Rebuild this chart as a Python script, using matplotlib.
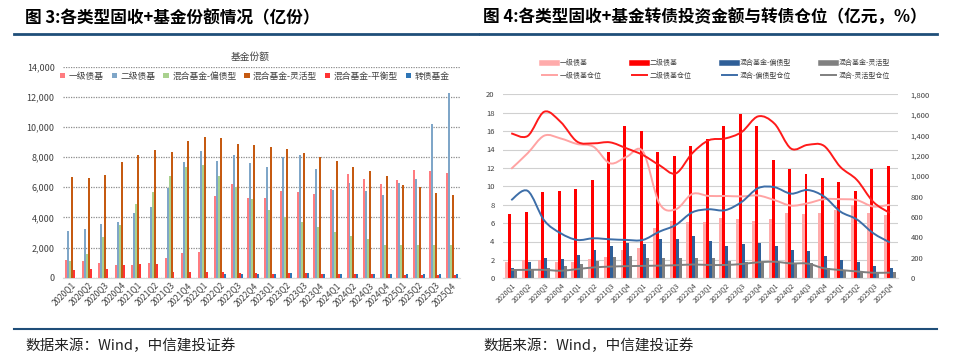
import numpy as np
import matplotlib
matplotlib.use("Agg")
import matplotlib.pyplot as plt
from matplotlib.path import Path
from matplotlib.patches import PathPatch
from matplotlib.lines import Line2D
from matplotlib.ticker import FuncFormatter, MultipleLocator

plt.rcParams['font.family'] = ['Noto Sans CJK SC', 'DejaVu Sans']
plt.rcParams['axes.unicode_minus'] = False

quarters = ['2020Q1', '2020Q2', '2020Q3', '2020Q4', '2021Q1', '2021Q2', '2021Q3', '2021Q4',
            '2022Q1', '2022Q2', '2022Q3', '2022Q4', '2023Q1', '2023Q2', '2023Q3', '2023Q4',
            '2024Q1', '2024Q2', '2024Q3', '2024Q4', '2025Q1', '2025Q2', '2025Q3', '2025Q4']

# 图3 基金份额 (亿份)
share_yiji = [1150, 1100, 950, 850, 850, 1000, 1300, 1620, 1680, 5400, 6250, 5270,
              5300, 5750, 5660, 5550, 5880, 6860, 6550, 6220, 6480, 7150, 7100, 6950]
share_erji = [3100, 3250, 3580, 3700, 4320, 4720, 5950, 7650, 8400, 7750, 8120, 7590,
              7320, 8030, 8120, 7190, 5800, 6260, 5770, 5500, 6260, 6530, 10200, 12280]
share_piandai = [1100, 1550, 2680, 3500, 4900, 5680, 6750, 7350, 7450, 6750, 6000, 5250,
                 4490, 4050, 3720, 3380, 3050, 2770, 2540, 2200, 2150, 2150, 2150, 2150]
share_linghuo = [6650, 6600, 6800, 7650, 8150, 8450, 8350, 9050, 9350, 9250, 8900, 8780,
                 8690, 8560, 8270, 8030, 7740, 7370, 7100, 6730, 6170, 6000, 5640, 5460]
share_pingheng = [500, 550, 550, 850, 900, 900, 350, 350, 350, 350, 300, 300,
                  250, 300, 300, 250, 250, 250, 250, 250, 200, 150, 150, 150]
share_zhuanzhai = [0, 0, 0, 0, 0, 0, 0, 0, 0, 250, 250, 250,
                   250, 300, 300, 250, 250, 250, 250, 250, 250, 250, 250, 250]

# 图4 转债投资金额 (亿元)
amt_yiji = [162, 180, 180, 162, 162, 189, 212, 279, 297, 495, 558, 549,
            549, 587, 580, 564, 577, 636, 629, 636, 668, 717, 642, 620]
amt_erji = [626, 648, 846, 855, 873, 959, 1238, 1494, 1440, 1238, 1197, 1296,
            1359, 1493, 1604, 1490, 1158, 1066, 1021, 985, 939, 854, 1066, 1102]
amt_piandai = [104, 158, 194, 189, 225, 275, 315, 342, 338, 387, 383, 410,
               369, 320, 333, 349, 320, 277, 267, 218, 179, 157, 121, 98]
amt_linghuo = [77, 81, 104, 117, 144, 171, 207, 216, 198, 198, 194, 198,
               198, 170, 157, 157, 163, 147, 147, 98, 75, 59, 49, 59]

# 转债仓位 (%)
pos_yiji = [11.9, 13.6, 15.5, 15.2, 14.6, 14.3, 12.5, 13.2, 13.8, 8.15, 7.5, 9.17,
            8.95, 8.95, 8.9, 9.0, 8.5, 7.9, 8.15, 8.6, 8.6, 8.5, 7.8, 8.0]
pos_erji = [15.76, 15.47, 18.1, 17.0, 14.86, 14.67, 14.78, 14.13, 13.4, 12.3, 11.4, 13.6,
            15.0, 15.2, 15.9, 17.6, 16.8, 14.1, 14.5, 14.4, 12.1, 10.7, 8.3, 7.1]
pos_piandai = [8.5, 9.5, 6.3, 4.9, 4.17, 4.35, 4.24, 4.17, 4.17, 5.07, 5.8, 7.17,
               7.5, 7.4, 8.3, 9.8, 9.9, 9.2, 9.6, 8.9, 7.25, 6.4, 4.9, 3.9]
pos_linghuo = [0.9, 0.92, 0.92, 0.82, 1.0, 1.18, 1.27, 1.32, 1.35, 1.38, 1.42, 1.5,
               1.45, 1.45, 1.55, 1.74, 1.8, 1.62, 1.6, 1.09, 0.9, 0.75, 0.6, 0.62]


def smooth_path(x, y):
    # excel-style smoothed line (catmull-rom bezier through the points)
    pts = np.column_stack([x, y]).astype(float)
    n = len(pts)
    verts = [pts[0]]
    codes = [Path.MOVETO]
    for i in range(n - 1):
        p0 = pts[i - 1] if i > 0 else pts[i]
        p1 = pts[i]
        p2 = pts[i + 1]
        p3 = pts[i + 2] if i + 2 < n else pts[i + 1]
        c1 = p1 + (p2 - p0) / 6.0
        c2 = p2 - (p3 - p1) / 6.0
        verts += [c1, c2, p2]
        codes += [Path.CURVE4] * 3
    return Path(verts, codes)


fig = plt.figure(figsize=(9.6, 3.61), dpi=100)
W, H = 960.0, 361.0

# header / footer decorations
fig.text(25 / W, 1 - 18 / H, '图 3:各类型固收+基金份额情况（亿份）', fontsize=12,
         fontweight='bold', va='center', ha='left')
fig.text(483 / W, 1 - 18 / H, '图 4:各类型固收+基金转债投资金额与转债仓位（亿元，%）', fontsize=12,
         fontweight='bold', va='center', ha='left')
fig.add_artist(Line2D([14 / W, 478 / W], [1 - 34 / H, 1 - 34 / H], color='#1f4e79', lw=2))
fig.add_artist(Line2D([480 / W, 937 / W], [1 - 34 / H, 1 - 34 / H], color='#1f4e79', lw=2))
fig.add_artist(Line2D([14 / W, 478 / W], [1 - 329 / H, 1 - 329 / H], color='#1f4e79', lw=1.5))
fig.add_artist(Line2D([480 / W, 937 / W], [1 - 329 / H, 1 - 329 / H], color='#1f4e79', lw=1.5))
fig.text(25 / W, 1 - 346 / H, '数据来源：Wind，中信建投证券', fontsize=10.5, va='center', ha='left',
         style='italic', color='#222222')
fig.text(483 / W, 1 - 346 / H, '数据来源：Wind，中信建投证券', fontsize=10.5, va='center', ha='left',
         style='italic', color='#222222')

# ---------------- left chart ----------------
ax1 = fig.add_axes([63 / W, 1 - 277.7 / H, 397 / W, 211 / H])
x = np.arange(len(quarters))
bw = 0.12
left_series = [
    ('一级债基', share_yiji, '#ff7c80'),
    ('二级债基', share_erji, '#7fa6c8'),
    ('混合基金-偏债型', share_piandai, '#a9d18e'),
    ('混合基金-灵活型', share_linghuo, '#c55a11'),
    ('混合基金-平衡型', share_pingheng, '#ff3333'),
    ('转债基金', share_zhuanzhai, '#2e75b6'),
]
for k, (name, vals, col) in enumerate(left_series):
    ax1.bar(x + (k - 2.5) * bw, vals, width=bw, color=col, label=name, zorder=3)

ax1.set_xlim(-0.5, len(quarters) - 0.5)
ax1.set_ylim(0, 14000)
ax1.yaxis.set_major_locator(MultipleLocator(2000))
ax1.yaxis.set_major_formatter(FuncFormatter(lambda v, p: f'{int(v):,}'))
ax1.grid(axis='y', color='#8c8c8c', linestyle=(0, (1, 1)), lw=0.9, zorder=0)
for s in ['top', 'right', 'left']:
    ax1.spines[s].set_visible(False)
ax1.spines['bottom'].set_color('#d9d9d9')
ax1.tick_params(axis='y', length=0, labelsize=6.5, pad=6, labelcolor='#404040')
ax1.tick_params(axis='x', length=0, labelsize=6, pad=2, labelcolor='#404040')
ax1.set_xticks(x)
ax1.set_xticklabels(quarters, rotation=45, ha='right', rotation_mode='anchor')
fig.text(250 / W, 1 - 57 / H, '基金份额', fontsize=7, color='#404040', ha='center', va='center')
ax1.legend(loc='center', bbox_to_anchor=(255 / W, 1 - 76 / H), bbox_transform=fig.transFigure,
           ncol=6, frameon=False, fontsize=6.3, handlelength=0.6, handleheight=0.6,
           handletextpad=0.4, columnspacing=0.9, borderpad=0, labelcolor='#404040')

# ---------------- right chart ----------------
ax2 = fig.add_axes([503 / W, 1 - 278.3 / H, 395 / W, 184 / H])
ax3 = ax2.twinx()
bw2 = 0.18
right_bars = [
    ('一级债基', amt_yiji, '#ffabab'),
    ('二级债基', amt_erji, '#ff0000'),
    ('混合基金-偏债型', amt_piandai, '#2f5f98'),
    ('混合基金-灵活型', amt_linghuo, '#808080'),
]
for k, (name, vals, col) in enumerate(right_bars):
    ax3.bar(x + (k - 1.5) * bw2, vals, width=bw2, color=col, zorder=2)

right_lines = [
    ('一级债基仓位', pos_yiji, '#ffa3a3'),
    ('二级债基仓位', pos_erji, '#ff1a1a'),
    ('混合-偏债型仓位', pos_piandai, '#3d6ea8'),
    ('混合-灵活型仓位', pos_linghuo, '#7f7f7f'),
]
# lines belong to the left axis but must sit above the bars -> draw on ax3 in ax2 data coords
for name, vals, col in right_lines:
    p = PathPatch(smooth_path(x, vals), facecolor='none', edgecolor=col, lw=1.4,
                  transform=ax2.transData, zorder=4)
    ax3.add_patch(p)

ax2.set_xlim(-0.5, len(quarters) - 0.5)
ax2.set_ylim(0, 20)
ax3.set_ylim(0, 1800)
ax2.yaxis.set_major_locator(MultipleLocator(2))
ax3.yaxis.set_major_locator(MultipleLocator(200))
ax3.yaxis.set_major_formatter(FuncFormatter(lambda v, p: f'{int(v):,}'))
ax2.grid(axis='y', color='#d0d0d0', lw=0.8, zorder=0)
ax2.set_axisbelow(True)
for a in (ax2, ax3):
    for s in ['top', 'right', 'left']:
        a.spines[s].set_visible(False)
    a.spines['bottom'].set_color('#d9d9d9')
ax2.tick_params(axis='y', length=0, labelsize=5.5, pad=6, labelcolor='#404040')
ax3.tick_params(axis='y', length=0, labelsize=5.5, pad=9, labelcolor='#404040')
ax2.set_xticks(x)
ax2.set_xticklabels(quarters, rotation=45, ha='right', rotation_mode='anchor')
ax2.tick_params(axis='x', length=0, labelsize=5, pad=2, labelcolor='#404040')

handles, labels = [], []
for (bn, _, bc), (ln, _, lc) in zip(right_bars, right_lines):
    handles.append(Line2D([], [], color=bc, lw=4))
    labels.append(bn)
    handles.append(Line2D([], [], color=lc, lw=1.4))
    labels.append(ln)
fig.legend(handles, labels, loc='center', bbox_to_anchor=(716 / W, 1 - 69.5 / H), ncol=4,
           frameon=False, fontsize=5, handlelength=2.2, handletextpad=0.4, columnspacing=4.3,
           labelspacing=0.7, borderpad=0, labelcolor='#404040')

fig.savefig('out.png', dpi=100)
